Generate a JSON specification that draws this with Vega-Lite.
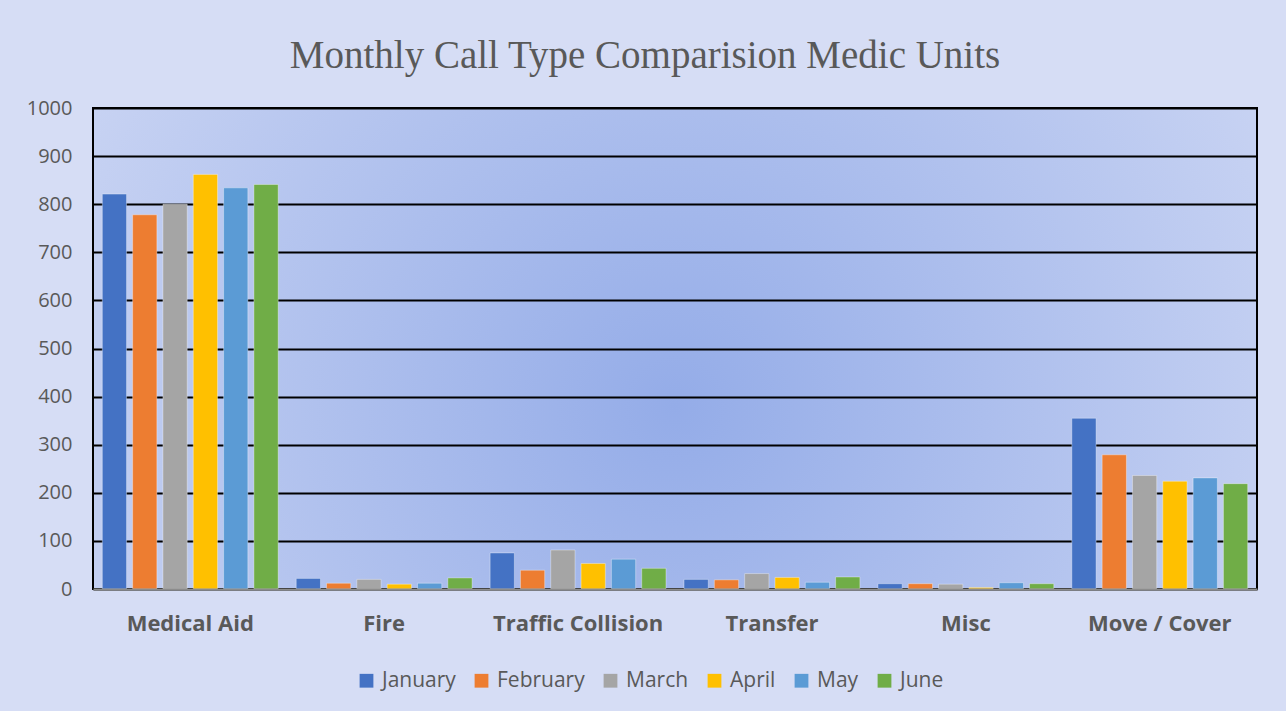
{
  "$schema": "https://vega.github.io/schema/vega-lite/v6.json",
  "width": 1164,
  "height": 481,
  "autosize": {"type": "none"},
  "padding": {"left": 93, "top": 108, "right": 29, "bottom": 122},
  "background": "#d6ddf5",
  "title": {
    "text": "Monthly Call Type Comparision Medic Units",
    "font": "Liberation Serif",
    "fontSize": 39,
    "fontWeight": "normal",
    "color": "#595959",
    "anchor": "middle",
    "dx": -30,
    "offset": 22
  },
  "config": {
    "view": {
      "stroke": "#000000",
      "strokeWidth": 2,
      "fill": {
        "gradient": "radial",
        "x1": 0.5, "y1": 0.55, "r1": 0,
        "x2": 0.5, "y2": 0.55, "r2": 0.75,
        "stops": [
          {"offset": 0, "color": "#94ace8"},
          {"offset": 1, "color": "#d8dff6"}
        ]
      }
    },
    "axis": {"labelFont": "Open Sans", "labelColor": "#595959"}
  },
  "data": {
    "values": [
      {"type": "Medical Aid", "month": "January", "value": 821},
      {"type": "Medical Aid", "month": "February", "value": 778},
      {"type": "Medical Aid", "month": "March", "value": 800},
      {"type": "Medical Aid", "month": "April", "value": 862},
      {"type": "Medical Aid", "month": "May", "value": 834},
      {"type": "Medical Aid", "month": "June", "value": 841},
      {"type": "Fire", "month": "January", "value": 22},
      {"type": "Fire", "month": "February", "value": 12},
      {"type": "Fire", "month": "March", "value": 20},
      {"type": "Fire", "month": "April", "value": 10},
      {"type": "Fire", "month": "May", "value": 12},
      {"type": "Fire", "month": "June", "value": 23},
      {"type": "Traffic Collision", "month": "January", "value": 75},
      {"type": "Traffic Collision", "month": "February", "value": 39},
      {"type": "Traffic Collision", "month": "March", "value": 81},
      {"type": "Traffic Collision", "month": "April", "value": 53},
      {"type": "Traffic Collision", "month": "May", "value": 62},
      {"type": "Traffic Collision", "month": "June", "value": 43},
      {"type": "Transfer", "month": "January", "value": 20},
      {"type": "Transfer", "month": "February", "value": 19},
      {"type": "Transfer", "month": "March", "value": 32},
      {"type": "Transfer", "month": "April", "value": 24},
      {"type": "Transfer", "month": "May", "value": 14},
      {"type": "Transfer", "month": "June", "value": 25},
      {"type": "Misc", "month": "January", "value": 11},
      {"type": "Misc", "month": "February", "value": 11},
      {"type": "Misc", "month": "March", "value": 10},
      {"type": "Misc", "month": "April", "value": 3},
      {"type": "Misc", "month": "May", "value": 13},
      {"type": "Misc", "month": "June", "value": 11},
      {"type": "Move / Cover", "month": "January", "value": 355},
      {"type": "Move / Cover", "month": "February", "value": 279},
      {"type": "Move / Cover", "month": "March", "value": 236},
      {"type": "Move / Cover", "month": "April", "value": 224},
      {"type": "Move / Cover", "month": "May", "value": 231},
      {"type": "Move / Cover", "month": "June", "value": 219}
    ]
  },
  "mark": {"type": "bar", "stroke": "#ffffff", "strokeOpacity": 0.35, "strokeWidth": 1},
  "encoding": {
    "x": {
      "field": "type",
      "type": "nominal",
      "sort": ["Medical Aid", "Fire", "Traffic Collision", "Transfer", "Misc", "Move / Cover"],
      "scale": {"paddingInner": 0.093, "paddingOuter": 0.048},
      "axis": {
        "title": null,
        "labelAngle": 0,
        "labelFontSize": 22,
        "labelFontWeight": "bold",
        "labelPadding": 24,
        "ticks": false,
        "domainColor": "#8c8c8c",
        "domainWidth": 2,
        "zindex": 1
      }
    },
    "xOffset": {
      "field": "month",
      "type": "nominal",
      "sort": ["January", "February", "March", "April", "May", "June"],
      "scale": {"paddingInner": 0.2, "paddingOuter": 0}
    },
    "y": {
      "field": "value",
      "type": "quantitative",
      "scale": {"domain": [0, 1000], "nice": false},
      "axis": {
        "title": null,
        "format": "d",
        "values": [0, 100, 200, 300, 400, 500, 600, 700, 800, 900, 1000],
        "labelFontSize": 20,
        "labelPadding": 21,
        "ticks": false,
        "domain": false,
        "gridColor": "#000000",
        "gridWidth": 2,
        "gridOpacity": 1
      }
    },
    "color": {
      "field": "month",
      "type": "nominal",
      "sort": ["January", "February", "March", "April", "May", "June"],
      "scale": {
        "domain": ["January", "February", "March", "April", "May", "June"],
        "range": ["#4472C4", "#ED7D31", "#A5A5A5", "#FFC000", "#5B9BD5", "#70AD47"]
      },
      "legend": {
        "title": null,
        "orient": "none",
        "direction": "horizontal",
        "legendX": 263,
        "legendY": 562,
        "symbolType": "square",
        "symbolSize": 190,
        "symbolStrokeWidth": 0,
        "labelFont": "Open Sans",
        "labelFontSize": 21,
        "labelColor": "#595959",
        "labelOffset": 5,
        "columnPadding": 15
      }
    }
  }
}
